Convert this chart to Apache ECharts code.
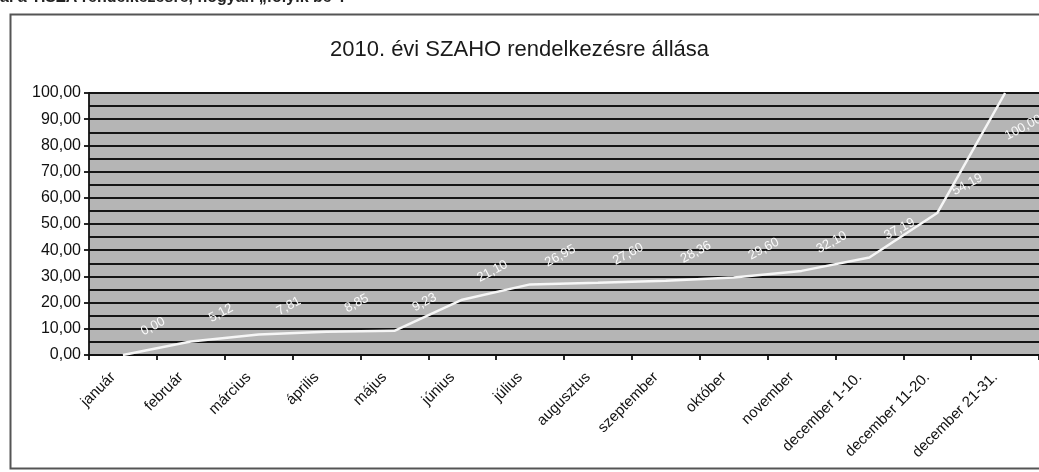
<!DOCTYPE html>
<html>
<head>
<meta charset="utf-8">
<script src="https://cdn.jsdelivr.net/npm/echarts@6/dist/echarts.min.js"></script>
<style>
html,body{margin:0;padding:0;background:#fff;}
#c{width:1039px;height:472px;}
</style>
</head>
<body>
<div id="c"></div>
<script>
const categories = ['január','február','március','április','május','június','július','augusztus','szeptember','október','november','december 1-10.','december 11-20.','december 21-31.'];
const values = [0.00, 5.12, 7.81, 8.85, 9.23, 21.10, 26.95, 27.60, 28.36, 29.60, 32.10, 37.19, 54.19, 100.00];
const yTicks = { min: 0, max: 100, interval: 10 };
const titleText = '2010. évi SZAHO rendelkezésre állása';
const headerText = 'ál a TISZA rendelkezésre, hogyan „folyik be”.';

const fmt = v => Number(v).toFixed(2).replace('.', ',');
const font = '"Liberation Sans", Arial, sans-serif';

const seriesData = values.map((v, i) => {
  const d = { value: v };
  if (i === values.length - 1) {
    d.label = { offset: [0, 39] };
  }
  return d;
});

const chart = echarts.init(document.getElementById('c'));
chart.setOption({
  animation: false,
  backgroundColor: '#ffffff',
  title: {
    text: titleText,
    left: 'center',
    top: 34,
    textStyle: { fontFamily: font, fontSize: 22, fontWeight: 'normal', color: '#1a1a1a' }
  },
  graphic: [
    {
      type: 'rect', left: 8, top: 12, z: -1,
      shape: { width: 1100, height: 454 },
      style: { fill: 'none', stroke: '#555', lineWidth: 2 }
    },
    {
      type: 'text', left: 0, top: -10,
      style: { text: headerText, font: 'bold 16px ' + font, fill: '#222' }
    }
  ],
  grid: {
    left: 89, right: -2, top: 93, bottom: 117,
    show: true, backgroundColor: '#b5b5b5', borderWidth: 0
  },
  xAxis: {
    type: 'category',
    data: categories,
    boundaryGap: true,
    axisLine: { lineStyle: { color: '#111', width: 1.8 } },
    axisTick: { show: true, length: 5, lineStyle: { color: '#111', width: 1.8 } },
    axisLabel: {
      interval: 0, rotate: 45, margin: 10,
      padding: [0, 14, 0, 0],
      fontFamily: font, fontSize: 15, color: '#111'
    },
    splitLine: { show: false }
  },
  yAxis: {
    type: 'value',
    min: yTicks.min, max: yTicks.max, interval: yTicks.interval,
    axisLine: { show: true, lineStyle: { color: '#111', width: 1.8 } },
    axisTick: { show: true, length: 5, lineStyle: { color: '#111', width: 1.8 } },
    axisLabel: { formatter: fmt, fontFamily: font, fontSize: 16, color: '#111', margin: 8 },
    splitLine: { show: true, lineStyle: { color: '#151515', width: 1.8 } },
    minorTick: { show: false, splitNumber: 2 },
    minorSplitLine: { show: true, lineStyle: { color: '#151515', width: 1.8 } }
  },
  series: [{
    type: 'line',
    data: seriesData,
    symbol: 'circle',
    symbolSize: 1,
    showSymbol: true,
    itemStyle: { color: 'rgba(255,255,255,0)' },
    lineStyle: { color: '#f6f6f6', width: 2.5 },
    label: {
      show: true,
      position: 'inside',
      align: 'center',
      verticalAlign: 'middle',
      rotate: 28,
      offset: [40, -11],
      formatter: p => fmt(p.value),
      fontFamily: font, fontSize: 13, color: '#fafafa'
    }
  }]
});
</script>
</body>
</html>
